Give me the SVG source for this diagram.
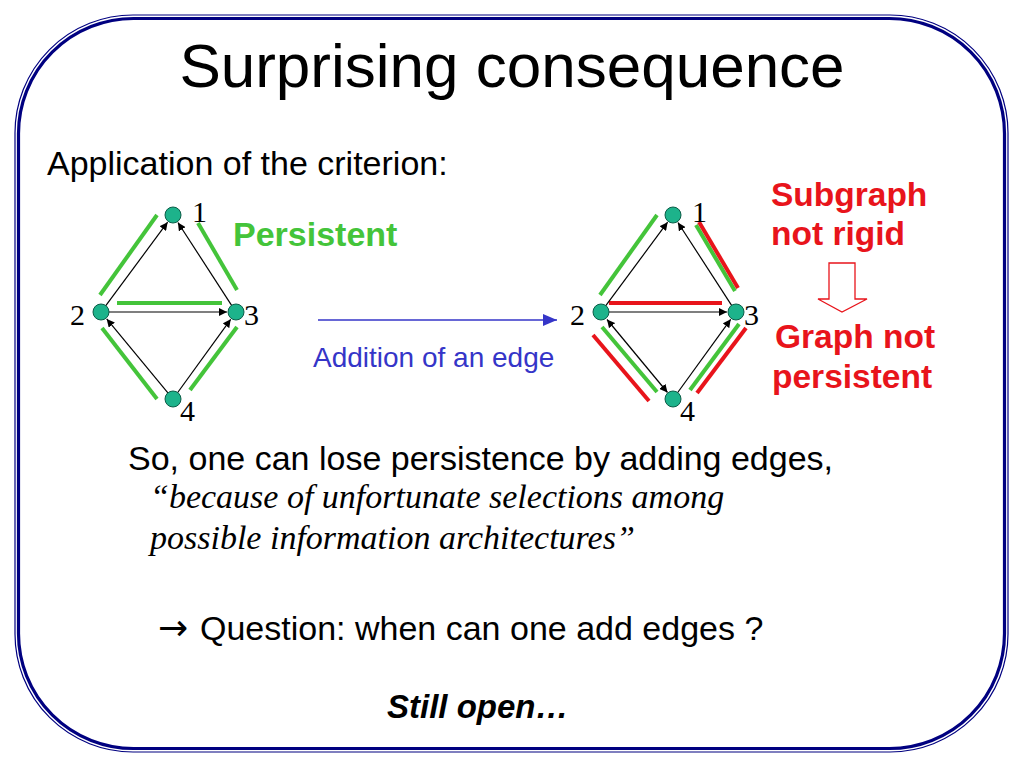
<svg xmlns="http://www.w3.org/2000/svg" width="1024" height="768" viewBox="0 0 1024 768">
<style>
.sans{font-family:"Liberation Sans",Arial,sans-serif}
.serif{font-family:"Liberation Serif","Times New Roman",serif}
.blk{fill:#000}
.num{font-family:"Liberation Serif","Times New Roman",serif;font-size:30px;fill:#000}
.node{fill:#1db38b;stroke:#0c5c47;stroke-width:1}
.edge{stroke:#000;stroke-width:1.2;fill:none;marker-end:url(#ah)}
.g{stroke:#44c43a;stroke-width:4;stroke-linecap:butt}
.r{stroke:#e8141b;stroke-width:4;stroke-linecap:butt}
.red{fill:#e8141b;font-weight:bold;font-size:33.5px}
</style>
<defs>
<marker id="ah" viewBox="0 0 10 10" refX="10" refY="5" markerWidth="8" markerHeight="8" markerUnits="userSpaceOnUse" orient="auto">
<path d="M0,0 L10,5 L0,10 Z" fill="#000"/>
</marker>
<marker id="ahs" viewBox="0 0 10 10" refX="0" refY="5" markerWidth="8" markerHeight="8" markerUnits="userSpaceOnUse" orient="auto">
<path d="M10,0 L0,5 L10,10 Z" fill="#000"/>
</marker>
<marker id="bh" viewBox="0 0 10 10" refX="10" refY="5" markerWidth="14" markerHeight="12" markerUnits="userSpaceOnUse" orient="auto" preserveAspectRatio="none">
<path d="M0,0 L10,5 L0,10 Z" fill="#3535c8"/>
</marker>
</defs>
<rect width="1024" height="768" fill="#fff"/>
<g id="frame" fill="none">
<rect x="15" y="15" width="993" height="737" rx="118" ry="118" stroke="#000080" stroke-width="1.2"/>
<rect x="18.5" y="18.5" width="986" height="730" rx="115" ry="115" stroke="#000080" stroke-width="3.2"/>
</g>
<text id="title" class="sans blk" x="512" y="87" font-size="62" text-anchor="middle">Surprising consequence</text>
<text class="sans blk" x="47" y="175" font-size="34">Application of the criterion:</text>

<g id="connectors">
<g id="left-edges">
<line class="g" x1="100" y1="295" x2="157" y2="215"/>
<line class="g" x1="198" y1="223" x2="237" y2="290"/>
<line class="g" x1="117" y1="303" x2="222" y2="303"/>
<line class="g" x1="102" y1="328" x2="157" y2="399"/>
<line class="g" x1="237" y1="327" x2="190" y2="390"/>
<line class="edge" x1="105.8" y1="305.6" x2="167.6" y2="222.2"/>
<line class="edge" x1="231.6" y1="305.3" x2="177.9" y2="222.5"/>
<line class="edge" x1="109" y1="312" x2="227" y2="312"/>
<line class="edge" x1="167.9" y1="392.8" x2="106.7" y2="318.9"/>
<line class="edge" x1="177.7" y1="392.5" x2="230.7" y2="319.3"/>
</g>
<g id="right-edges">
<line class="g" x1="600" y1="295" x2="657" y2="215"/>
<line class="g" x1="696" y1="225" x2="735" y2="291"/>
<line class="r" x1="699" y1="222" x2="738" y2="288"/>
<line class="g" x1="617" y1="303" x2="722" y2="303"/>
<line class="r" x1="609" y1="303" x2="722" y2="303"/>
<line class="g" x1="602" y1="327" x2="657" y2="392"/>
<line class="r" x1="593" y1="335" x2="649" y2="401"/>
<line class="g" x1="739" y1="324" x2="690" y2="390"/>
<line class="r" x1="746" y1="328" x2="697" y2="393"/>
<line class="edge" x1="605.8" y1="305.6" x2="667.6" y2="222.2"/>
<line class="edge" x1="731.6" y1="305.3" x2="677.9" y2="222.5"/>
<line class="edge" x1="609" y1="312" x2="727" y2="312"/>
<line class="edge" x1="607" y1="319.5" x2="667.5" y2="392.5" marker-start="url(#ahs)"/>
<line class="edge" x1="677.7" y1="392.5" x2="730.7" y2="319.3"/>
</g>
<line id="addition-arrow" x1="318" y1="320" x2="557" y2="320" stroke="#3535c8" stroke-width="1.6" marker-end="url(#bh)"/>
</g>

<g id="left-graph">
<g id="L1"><circle class="node" cx="173" cy="215" r="8"/><text class="num" x="192" y="222">1</text></g>
<g id="L2"><circle class="node" cx="101" cy="312" r="8"/><text class="num" x="70" y="325">2</text></g>
<g id="L3"><circle class="node" cx="236" cy="312" r="8"/><text class="num" x="244" y="325">3</text></g>
<g id="L4"><circle class="node" cx="173" cy="399" r="8"/><text class="num" x="180" y="421">4</text></g>
</g>
<g id="right-graph">
<g id="R1"><circle class="node" cx="673" cy="215" r="8"/><text class="num" x="692" y="222">1</text></g>
<g id="R2"><circle class="node" cx="601" cy="312" r="8"/><text class="num" x="570" y="325">2</text></g>
<g id="R3"><circle class="node" cx="736" cy="312" r="8"/><text class="num" x="744" y="325">3</text></g>
<g id="R4"><circle class="node" cx="673" cy="399" r="8"/><text class="num" x="680" y="421">4</text></g>
</g>

<text id="persistent" class="sans" x="233" y="246" font-size="34" font-weight="bold" fill="#44c43a">Persistent</text>
<text class="sans" x="313" y="367" font-size="28" fill="#3535c8">Addition of an edge</text>

<g id="subgraph-note">
<text class="sans red" x="771" y="206">Subgraph</text>
<text class="sans red" x="771" y="245">not rigid</text>
</g>
<path id="hollow-arrow" d="M829,263 L855,263 L855,299 L867,299 L842,312 L818,299 L829,299 Z" fill="#fff" stroke="#e8141b" stroke-width="1.3"/>
<g id="graph-note">
<text class="sans red" x="775" y="348">Graph not</text>
<text class="sans red" x="772" y="388">persistent</text>
</g>

<text class="sans blk" x="128" y="470" font-size="34">So, one can lose persistence by adding edges,</text>
<text class="serif blk" x="150" y="508" font-size="34" font-style="italic">“because of unfortunate selections among</text>
<text class="serif blk" x="150" y="549" font-size="34" font-style="italic">possible information architectures”</text>
<text class="blk" y="640"><tspan x="158" font-family="'DejaVu Sans',sans-serif" font-size="36">→</tspan><tspan x="200" font-family="'Liberation Sans',Arial,sans-serif" font-size="34">Question: when can one add edges ?</tspan></text>
<text class="sans blk" x="387" y="718" font-size="33" font-weight="bold" font-style="italic">Still open…</text>
</svg>
